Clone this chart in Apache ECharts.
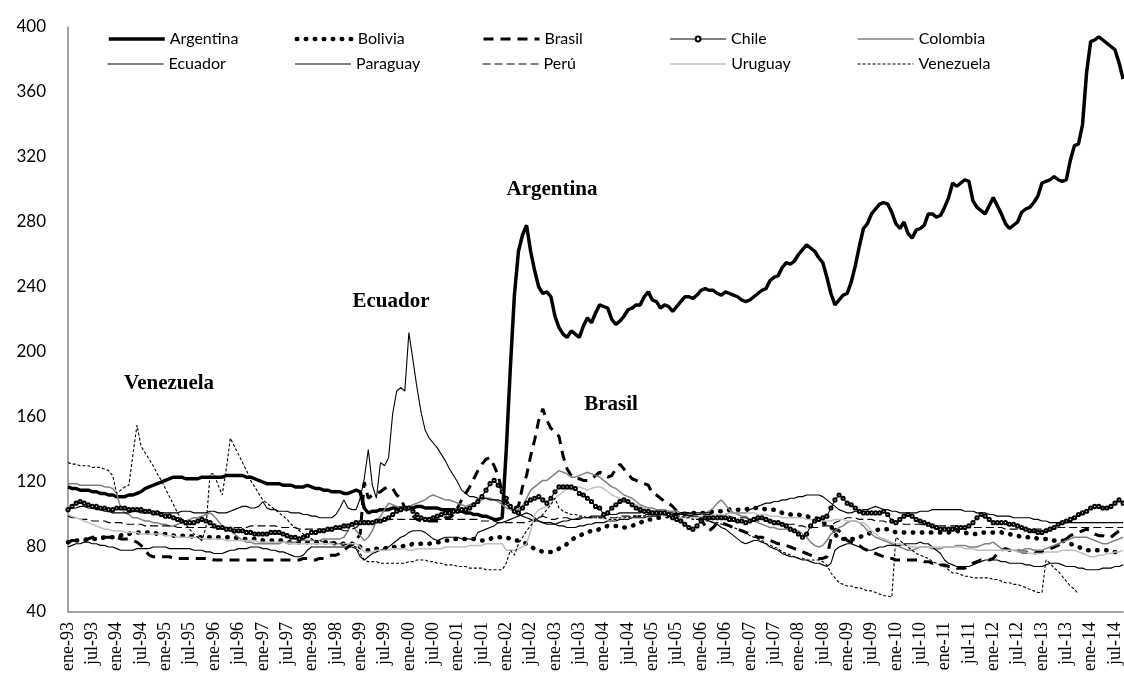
<!DOCTYPE html>
<html>
<head>
<meta charset="utf-8">
<script src="https://cdn.jsdelivr.net/npm/echarts@6/dist/echarts.min.js"></script>
<style>
  html, body { margin: 0; padding: 0; background: #fff; }
  #chart { width: 1124px; height: 675px; }
</style>
</head>
<body>
<div id="chart"></div>
<script>
// meses ene-93 ... sep-14
const monthNames = ['ene', 'feb', 'mar', 'abr', 'may', 'jun', 'jul', 'ago', 'sep', 'oct', 'nov', 'dic']
const firstYear = 1993
const lastYear = 2014
const lastMonth = 9

const argentina = [
  117,116,116,115,115,115,114,114,113,113,112,112,
  111,111,111,112,112,113,114,116,117,118,119,120,
  121,122,123,123,123,122,122,122,122,123,123,123,
  123,123,123,124,124,124,124,124,123,123,122,121,
  120,119,119,119,119,118,118,118,117,117,117,118,
  117,116,116,115,115,114,114,114,113,113,114,115,
  114,104,101,102,102,103,103,103,104,104,104,104,
  104,104,105,105,104,104,104,104,103,103,103,103,
  102,102,101,101,100,100,99,99,98,97,97,98,
  140,190,235,262,272,278,262,250,240,236,237,234,
  222,215,211,209,213,211,209,216,221,218,224,229,
  228,227,220,217,219,222,226,227,229,229,234,237,
  232,231,227,229,228,225,228,231,234,234,233,235,
  238,239,238,238,236,235,237,236,235,234,232,231,
  232,234,236,238,239,244,246,247,252,255,254,256,
  260,263,266,264,262,258,255,246,236,229,232,235,
  236,243,253,265,276,279,285,288,291,292,291,286,
  279,276,280,273,270,275,276,278,285,285,283,284,
  289,295,304,302,304,306,305,293,289,287,285,290,
  295,290,285,279,276,278,280,286,288,289,292,296,
  304,305,306,308,306,305,306,318,327,328,340,372,
  391,392,394,392,390,388,386,378,368
]

const bolivia = [
  83,83,84,84,84,85,85,85,85,86,86,86,
  87,87,88,88,89,89,89,89,89,89,88,88,
  88,88,87,87,87,87,87,86,86,86,86,86,
  86,86,86,86,86,86,85,85,85,85,85,85,
  84,84,84,84,84,84,83,83,83,83,83,83,
  83,83,83,83,83,83,82,82,82,82,82,82,
  80,78,78,78,79,79,79,80,80,80,80,81,
  81,82,82,82,82,82,83,83,83,84,84,85,
  85,85,85,85,85,84,84,84,85,86,86,86,
  86,85,84,84,83,82,80,79,78,77,77,77,
  78,79,80,82,84,86,87,88,89,90,90,91,
  92,93,93,93,93,92,92,93,94,95,96,97,
  97,98,98,99,99,100,100,100,100,101,101,101,
  101,101,101,102,102,102,102,103,103,103,103,103,
  104,104,104,104,103,103,103,102,101,101,100,100,
  100,99,99,98,98,97,95,94,93,88,85,85,
  85,85,85,86,87,88,89,90,91,91,91,90,
  89,89,89,89,89,89,89,89,89,89,89,89,
  89,89,90,90,89,89,88,88,88,89,89,89,
  89,89,89,88,88,87,87,86,86,86,86,85,
  85,85,84,84,84,84,83,82,81,80,79,78,
  78,78,78,78,78,77,77,77,77
]

const brasil = [
  83,84,84,85,85,85,86,86,86,86,86,86,
  86,85,85,85,84,83,81,78,75,74,74,74,
  74,74,73,73,73,73,73,73,73,73,73,73,
  72,72,72,72,72,72,72,72,72,72,72,72,
  72,72,72,72,72,72,72,72,72,72,73,73,
  72,72,73,73,74,75,75,76,78,80,82,84,
  88,120,110,112,113,114,116,117,116,112,110,104,
  101,99,97,96,96,96,96,96,97,98,98,100,
  104,109,113,117,122,127,131,134,135,130,124,114,
  108,105,104,105,117,124,136,146,158,165,158,153,
  151,148,136,128,124,122,122,121,121,122,124,126,
  125,123,124,128,131,128,125,122,121,120,119,118,
  113,112,110,108,107,105,102,101,101,100,100,99,
  97,93,90,92,95,95,94,93,92,91,90,89,
  88,87,86,86,85,84,83,82,82,81,80,79,
  78,77,76,75,74,73,73,74,85,91,90,87,
  84,83,82,81,79,78,77,76,75,74,73,73,
  72,72,72,72,72,72,72,71,71,70,70,69,
  69,68,68,67,67,67,68,70,71,72,72,72,
  73,76,78,79,78,78,78,77,77,76,76,77,
  77,78,79,80,81,83,85,87,88,89,90,91,
  90,88,87,87,86,86,88,90,90
]

const chile = [
  103,105,107,108,107,106,105,105,104,104,103,103,
  104,104,104,103,103,103,103,102,102,101,101,100,
  99,99,98,97,96,95,95,95,96,97,96,95,
  93,92,92,91,91,90,90,90,89,89,88,88,
  88,88,89,89,89,88,87,86,86,85,86,87,
  89,89,90,90,91,91,92,92,93,93,94,95,
  95,95,95,95,96,96,97,98,100,102,103,104,
  104,102,100,98,97,97,98,99,100,101,101,102,
  102,103,103,104,106,108,111,115,119,121,118,114,
  110,105,102,101,104,107,109,110,111,109,107,110,
  114,117,117,117,117,116,113,112,110,108,105,104,
  100,101,104,106,108,109,108,106,104,103,102,102,
  101,101,101,101,100,98,97,96,94,92,91,93,
  96,98,98,98,98,98,98,97,97,96,96,95,
  96,97,98,98,97,96,95,95,94,93,91,90,
  88,86,88,93,96,97,98,99,104,109,112,110,
  107,106,104,102,101,101,101,101,101,102,100,96,
  95,97,99,100,99,97,96,95,94,93,92,91,
  91,91,91,92,92,92,93,95,98,100,99,97,
  95,95,95,95,94,94,93,92,91,90,90,89,
  89,90,91,92,94,95,96,97,98,100,101,102,
  104,105,105,104,104,105,107,109,107
]

const colombia = [
  119,119,119,118,118,118,118,118,118,117,117,116,
  113,104,101,100,98,98,97,96,96,95,95,94,
  94,93,93,94,95,96,97,98,98,99,100,101,
  99,96,93,91,90,88,86,84,83,83,82,82,
  82,82,82,82,82,83,83,83,83,84,84,84,
  84,84,84,85,85,85,85,85,86,90,95,90,
  87,84,86,90,96,99,103,107,106,105,104,105,
  105,106,107,108,109,111,112,111,110,109,109,108,
  107,106,105,106,107,108,109,110,110,109,108,106,
  104,103,102,103,105,110,115,117,119,121,121,123,
  125,127,126,125,123,123,124,125,126,125,124,123,
  121,119,117,116,114,112,111,110,108,106,105,104,
  104,103,103,103,102,102,102,101,101,100,100,100,
  100,101,102,104,107,109,106,103,101,100,99,99,
  97,96,95,94,93,92,92,91,91,91,91,90,
  90,88,86,83,81,80,81,84,88,90,92,93,
  95,96,96,95,93,90,88,86,85,84,83,82,
  81,80,79,78,78,79,80,80,80,79,79,79,
  80,80,80,81,81,81,80,80,80,81,82,82,
  83,81,79,78,78,78,78,78,79,79,78,78,
  78,79,80,81,82,83,84,85,86,86,86,86,
  85,84,83,82,82,83,84,85,86
]

const ecuador = [
  103,104,104,105,105,104,104,103,103,102,102,101,
  101,101,101,101,102,102,101,101,101,102,102,101,
  101,101,101,101,102,102,102,101,101,101,101,102,
  102,101,101,101,102,103,104,105,105,104,104,105,
  108,104,103,103,102,102,102,101,101,101,100,100,
  99,99,98,98,98,98,100,104,109,104,103,103,
  110,122,140,118,110,132,130,135,162,176,178,176,
  212,195,178,163,152,147,144,141,137,133,128,124,
  120,115,113,111,111,110,110,110,109,109,109,108,
  106,104,102,100,99,98,97,96,96,95,95,95,
  94,93,93,92,92,92,93,93,94,94,95,95,
  95,96,96,96,97,97,97,98,98,98,98,99,
  99,99,100,100,100,100,100,101,101,101,101,101,
  101,101,101,100,100,100,100,101,101,101,101,101,
  103,104,105,106,107,107,108,108,109,109,110,110,
  111,111,112,112,112,112,111,109,107,105,103,102,
  101,101,102,102,103,103,104,105,104,103,103,102,
  102,101,101,101,101,101,102,102,102,103,103,103,
  103,103,103,103,103,102,102,102,101,101,101,100,
  100,99,99,99,99,98,98,98,98,98,97,97,
  96,96,95,95,95,95,95,95,95,95,95,95,
  95,95,95,95,95,95,95,95,95
]

const paraguay = [
  80,81,82,82,83,83,82,82,81,81,80,80,
  79,78,78,78,78,79,79,79,79,80,80,80,
  80,79,79,79,79,79,79,78,78,78,77,77,
  76,76,76,77,78,78,79,79,79,80,80,80,
  79,79,78,78,77,77,76,75,74,74,75,78,
  80,80,80,80,80,80,80,80,80,80,80,79,
  74,72,74,76,77,78,79,80,82,84,86,87,
  89,90,90,90,89,87,85,84,85,86,86,86,
  86,85,85,85,84,89,90,91,92,93,95,95,
  96,97,98,99,100,101,100,98,96,95,94,94,
  94,95,96,96,97,97,98,98,98,99,99,99,
  99,100,100,100,101,101,101,101,101,101,102,102,
  102,102,102,101,101,101,100,100,100,99,99,99,
  98,97,96,95,94,92,91,89,87,85,83,82,
  83,84,84,83,82,80,79,78,76,75,74,74,
  73,72,72,71,70,70,69,68,70,78,80,81,
  82,82,81,80,79,78,78,79,80,80,81,81,
  81,81,82,82,82,82,83,82,82,80,78,76,
  72,70,69,68,68,68,68,69,70,71,72,72,
  72,72,71,71,70,70,70,70,69,69,68,68,
  68,69,70,70,70,69,68,68,68,67,67,66,
  66,66,66,67,67,67,68,68,69
]

const peru = [
  99,98,98,97,97,97,96,96,96,96,95,95,
  95,95,94,94,94,94,94,93,93,93,93,93,
  93,93,93,92,92,92,92,92,92,92,92,92,
  92,92,92,92,92,92,92,92,92,93,93,93,
  93,93,93,93,92,92,92,92,92,91,91,91,
  91,91,91,91,91,91,91,91,90,90,91,92,
  94,96,96,96,96,96,96,97,97,97,97,97,
  97,97,97,97,97,97,97,97,97,97,97,97,
  97,97,97,97,97,97,96,96,96,96,95,95,
  95,95,95,95,95,95,96,97,98,99,98,97,
  97,98,98,98,97,97,97,98,98,98,98,98,
  98,98,98,98,99,99,99,99,99,99,100,100,
  100,100,100,100,100,100,101,101,101,101,100,100,
  100,100,100,100,99,99,99,99,98,98,98,98,
  97,97,96,96,96,95,95,95,94,94,94,94,
  93,93,92,92,92,92,93,93,93,95,96,97,
  98,98,98,97,97,97,97,96,96,96,95,95,
  95,95,94,94,94,94,94,93,93,93,93,93,
  93,93,93,93,93,92,92,92,92,92,92,92,
  92,92,92,91,91,91,91,91,91,91,91,91,
  91,91,91,91,92,92,92,92,92,92,92,92,
  92,92,92,92,92,92,92,92,92
]

const uruguay = [
  100,99,98,97,96,95,94,93,92,91,91,90,
  90,90,89,89,89,89,88,88,88,88,88,88,
  87,87,87,86,86,86,86,86,86,85,85,85,
  85,85,85,84,84,84,84,84,84,84,84,83,
  83,83,83,83,83,83,82,82,82,82,82,82,
  82,82,82,82,82,82,82,82,82,82,82,82,
  80,77,77,77,78,78,78,78,79,79,79,79,
  78,78,79,79,79,79,79,79,79,80,80,80,
  80,80,80,81,81,81,81,82,82,82,82,82,
  78,78,78,79,80,82,90,100,103,104,105,107,
  110,112,114,116,115,117,117,116,115,116,117,117,
  116,114,112,111,110,109,108,107,106,105,104,103,
  101,100,100,99,99,99,98,98,98,98,98,98,
  99,99,99,100,100,100,100,101,101,101,101,101,
  101,101,100,100,100,99,99,99,98,98,98,98,
  98,98,97,97,97,97,96,96,96,97,97,97,
  96,96,96,95,95,93,90,88,86,85,84,83,
  82,82,81,81,80,80,80,80,80,80,80,80,
  80,80,80,80,80,79,79,79,78,78,78,78,
  78,78,78,78,78,78,77,77,77,76,76,76,
  76,77,77,77,77,78,78,78,78,77,76,75,
  74,74,75,75,76,76,77,77,78
]

const venezuela = [
  132,131,131,130,130,130,129,129,129,128,127,124,
  113,115,117,118,137,155,142,138,134,130,125,121,
  116,111,106,101,97,94,91,88,86,84,92,125,
  125,118,112,128,147,142,137,132,127,121,117,113,
  109,107,105,103,101,99,97,94,92,90,88,86,
  85,84,84,83,83,83,82,82,82,81,81,80,
  76,72,71,71,71,70,70,70,70,70,70,70,
  71,71,72,72,72,71,71,70,70,69,69,69,
  68,68,68,67,67,67,67,66,66,66,66,66,
  70,78,75,82,86,90,93,96,98,100,103,106,
  110,104,102,101,100,100,99,99,98,98,98,98,
  98,97,97,97,98,98,98,99,99,99,99,100,
  101,101,100,100,100,99,99,99,98,98,97,97,
  97,96,96,95,95,94,94,93,92,91,90,89,
  87,86,85,84,82,81,80,79,77,76,75,74,
  73,73,72,72,72,72,71,69,64,61,58,57,
  56,56,55,55,54,53,53,52,51,50,50,49,
  86,84,82,80,78,76,75,74,73,71,70,69,
  68,66,64,64,63,62,62,61,61,61,61,61,
  60,60,59,58,58,57,57,56,55,54,53,52,
  52,72,70,67,65,62,59,56,54,51,null,null,
  null,null,null,null,null,null,null,null,null
]

const yTicks = [40, 400, 40] // min, max, interval

const labels = [
  { text: 'Venezuela', x: 169, y: 384 },
  { text: 'Ecuador', x: 391, y: 302 },
  { text: 'Argentina', x: 552, y: 190 },
  { text: 'Brasil', x: 611, y: 405 }
]

let categories = []
for (let y = firstYear; y <= lastYear; y++) {
  for (let m = 0; m < 12; m++) {
    if (y === lastYear && m >= lastMonth) break
    categories.push(monthNames[m] + '-' + String(y).slice(2))
  }
}

const seriesDefs = [
  { name: 'Argentina', data: argentina, lineStyle: { color: '#000', width: 3.5 } },
  { name: 'Bolivia', data: bolivia, lineStyle: { color: '#000', width: 4.5, type: [0.5, 8.5], cap: 'round' } },
  { name: 'Brasil', data: brasil, lineStyle: { color: '#000', width: 3, type: [10, 7] } },
  { name: 'Chile', data: chile, lineStyle: { color: '#000', width: 1.1 }, marker: true },
  { name: 'Colombia', data: colombia, lineStyle: { color: '#808080', width: 1.5 } },
  { name: 'Ecuador', data: ecuador, lineStyle: { color: '#000', width: 1.1 } },
  { name: 'Paraguay', data: paraguay, lineStyle: { color: '#000', width: 1.1 } },
  { name: 'Perú', data: peru, lineStyle: { color: '#000', width: 1.1, type: [8, 4] } },
  { name: 'Uruguay', data: uruguay, lineStyle: { color: '#c0c0c0', width: 1.5 } },
  { name: 'Venezuela', data: venezuela, lineStyle: { color: '#000', width: 1.1, type: [3, 2] } }
]

const chart = echarts.init(document.getElementById('chart'))

chart.setOption({
  animation: false,
  backgroundColor: '#fff',
  grid: { left: 68, right: 0, top: 27, bottom: 63 },
  legend: seriesDefs.map((s, i) => ({
    data: [s.name],
    left: 107 + (i % 5) * 187.5,
    top: i < 5 ? 31 : 56,
    itemWidth: 56,
    itemHeight: 6,
    padding: 0,
    lineStyle: Object.assign({}, s.lineStyle),
    // sin simbolo salvo Chile
    itemStyle: s.marker
      ? { color: '#000', borderColor: '#000' }
      : { color: 'transparent', borderColor: 'transparent', borderWidth: 0, opacity: 0 },
    textStyle: { fontFamily: 'Lato', fontSize: 16, color: '#000' }
  })),
  xAxis: {
    type: 'category',
    data: categories,
    boundaryGap: false,
    axisLine: { lineStyle: { color: '#868686', width: 1.5 } },
    axisTick: { show: false },
    axisLabel: {
      interval: 5,
      rotate: 90,
      margin: 10,
      fontFamily: 'Liberation Serif',
      fontSize: 18,
      color: '#000'
    },
    splitLine: { show: false }
  },
  yAxis: {
    type: 'value',
    min: yTicks[0],
    max: yTicks[1],
    interval: yTicks[2],
    axisLine: { show: true, lineStyle: { color: '#868686', width: 1.5 } },
    axisTick: { show: false },
    axisLabel: { margin: 22, fontFamily: 'Lato', fontSize: 17, color: '#000' },
    splitLine: { show: false }
  },
  graphic: labels.map(l => ({
    type: 'text',
    x: l.x,
    y: l.y,
    style: {
      text: l.text,
      font: 'bold 21px "Liberation Serif"',
      fill: '#000',
      textAlign: 'center',
      textVerticalAlign: 'middle'
    }
  })),
  series: seriesDefs.map(s => ({
    name: s.name,
    type: 'line',
    data: s.data,
    lineStyle: s.lineStyle,
    itemStyle: s.marker ? { color: '#000', borderWidth: 0.9 } : { color: s.lineStyle.color },
    symbol: s.marker ? 'emptyCircle' : 'none',
    symbolSize: 3.2,
    showSymbol: !!s.marker,
    showAllSymbol: true,
    connectNulls: false,
    silent: true
  }))
})
</script>
</body>
</html>
